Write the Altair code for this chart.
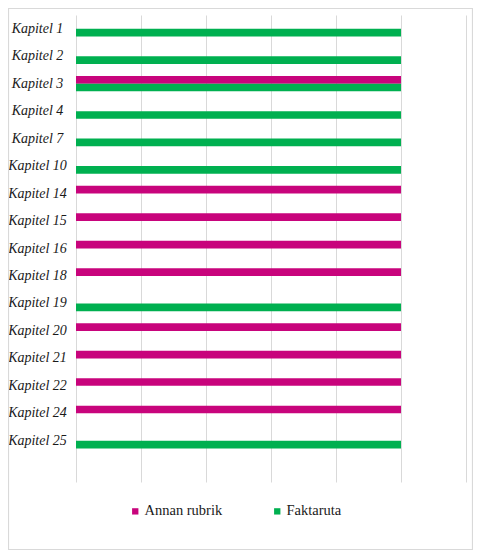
import altair as alt
import pandas as pd

chapters = ["Kapitel 1", "Kapitel 2", "Kapitel 3", "Kapitel 4", "Kapitel 7", "Kapitel 10",
            "Kapitel 14", "Kapitel 15", "Kapitel 16", "Kapitel 18", "Kapitel 19", "Kapitel 20",
            "Kapitel 21", "Kapitel 22", "Kapitel 24", "Kapitel 25"]
series = ["Annan rubrik", "Faktaruta"]
annan = [0, 0, 1, 0, 0, 0, 1, 1, 1, 1, 0, 1, 1, 1, 1, 0]
fakta = [1, 1, 1, 1, 1, 1, 0, 0, 0, 0, 1, 0, 0, 0, 0, 1]
colors = ["#C8047C", "#00B050"]

rows = []
for c, a, f in zip(chapters, annan, fakta):
    if a:
        rows.append({"kapitel": c, "typ": series[0], "v": a})
    if f:
        rows.append({"kapitel": c, "typ": series[1], "v": f})
df = pd.DataFrame(rows)

domain_y = chapters + [" "]

bars = alt.Chart(df).mark_bar().encode(
    x=alt.X("v:Q", scale=alt.Scale(domain=[0, 1.2], nice=False),
            axis=alt.Axis(title=None, labels=False, ticks=False, domain=False,
                          values=[0, 0.2, 0.4, 0.6, 0.8, 1.0, 1.2],
                          grid=True, gridColor="#d9d9d9", gridWidth=1)),
    y=alt.Y("kapitel:N", sort=domain_y,
            scale=alt.Scale(domain=domain_y, paddingInner=0.44, paddingOuter=0.22),
            axis=alt.Axis(title=None, ticks=False, domain=False, grid=False,
                          labelAlign="center", labelPadding=39,
                          labelFont="Liberation Serif", labelFontStyle="italic",
                          labelFontSize=14, labelColor="#1a1a1a")),
    yOffset=alt.YOffset("typ:N", scale=alt.Scale(domain=series, paddingInner=0, paddingOuter=0)),
    color=alt.Color("typ:N", scale=alt.Scale(domain=series, range=colors),
                    legend=alt.Legend(title=None, orient="none", legendX=52, legendY=489,
                                      direction="horizontal", columns=2, symbolType="square",
                                      symbolSize=40, symbolStrokeWidth=0, labelOffset=2,
                                      gridAlign="all", columnPadding=47,
                                      labelFont="Liberation Serif", labelFontStyle="normal",
                                      labelFontSize=14.5, labelColor="#1a1a1a")),
)

border = alt.Chart(pd.DataFrame({"a": [0]})).mark_rect(
    fill="transparent", stroke="#d9d9d9", strokeWidth=1.2
).encode(
    x=alt.value(-67.5), x2=alt.value(396.5), y=alt.value(-6.5), y2=alt.value(534.5)
)

chart = alt.layer(border, bars).properties(
    width=390, height=467,
    padding={"left": 68, "top": 7, "right": 7, "bottom": 68},
    autosize=alt.AutoSizeParams(type="none"),
    background="white",
).configure_view(strokeOpacity=0)

chart.save("out.html", embed_options={"renderer": "svg", "actions": False})
